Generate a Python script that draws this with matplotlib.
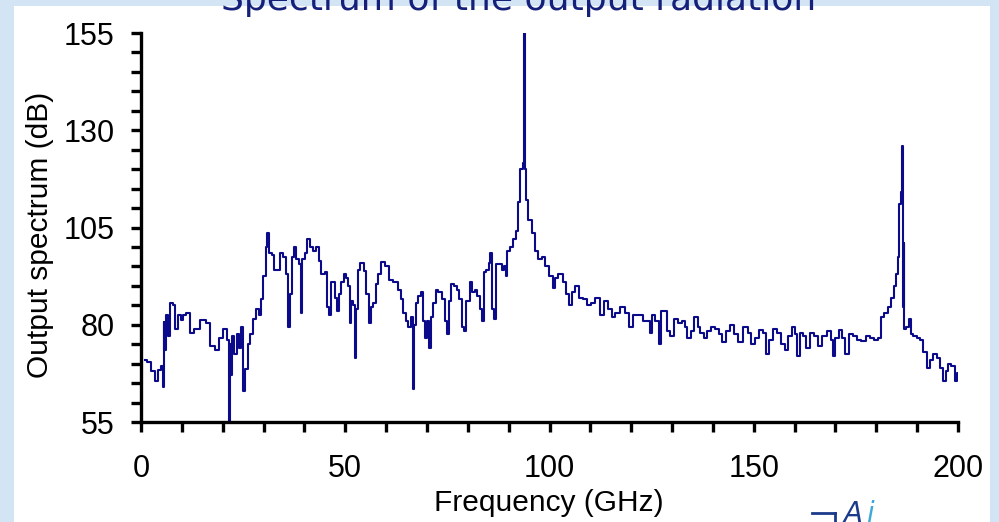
import matplotlib
matplotlib.use("Agg")
import matplotlib.pyplot as plt
from matplotlib.patches import Rectangle
from matplotlib.lines import Line2D

freq_ghz = [
    1.0, 2.0, 3.0, 3.8, 4.6, 5.2, 5.5, 5.6, 5.9, 6.4, 6.8, 7.4, 8.1, 8.4, 9.5, 9.9,
    10.7, 11.5, 12.3, 13.5, 15.6, 16.4, 17.6, 18.4, 19.7, 20.6, 21.3, 21.8, 22.0, 22.2,
    22.5, 23.1, 23.7, 24.2, 24.7, 25.2, 25.8, 26.4, 27.0, 27.8, 28.6, 29.0, 29.6, 30.3,
    30.7, 31.1, 31.7, 32.2, 32.7, 33.7, 34.5, 35.2, 35.8, 36.4, 36.7, 37.2, 37.6, 38.4,
    39.0, 39.3, 39.6, 40.5, 41.0, 41.6, 42.6, 43.3, 43.7, 44.6, 45.4, 45.9, 46.3, 46.8,
    47.4, 47.8, 48.2, 48.7, 49.4, 50.0, 50.5, 50.9, 51.2, 51.6, 52.1, 52.6, 52.8, 53.2,
    54.2, 54.8, 55.5, 56.1, 56.5, 57.3, 57.7, 58.5, 59.1, 60.2, 61.0, 62.6, 63.4, 64.0,
    64.5, 65.0, 65.8, 66.3, 66.8, 67.0, 67.5, 68.2, 68.9, 69.4, 69.7, 70.1, 70.7, 71.3,
    71.8, 72.4, 73.2, 74.0, 74.6, 75.2, 75.6, 76.2, 77.0, 77.7, 78.2, 78.9, 79.2, 80.1,
    80.8, 81.4, 82.0, 82.6, 83.2, 83.8, 84.2, 84.9, 85.3, 85.7, 86.1, 86.5, 87.1, 88.0,
    88.5, 89.0, 89.5, 89.9, 90.7, 91.6, 92.1, 92.6, 93.2, 93.6, 93.8, 94.0, 94.2, 94.4,
    95.2, 96.0, 96.9, 97.7, 98.6, 99.3, 100.5, 101.1, 101.5, 102.7, 103.9, 104.4, 105.1,
    105.7, 106.7, 107.5, 108.8, 109.6, 110.7, 111.8, 112.7, 113.8, 114.9, 115.7, 116.5,
    117.9, 119.0, 120.0, 121.0, 122.2, 123.5, 124.3, 124.8, 125.5, 126.3, 127.1, 127.5,
    128.3, 129.1, 129.9, 130.9, 132.0, 132.8, 133.3, 134.1, 135.0, 135.9, 136.6, 137.3,
    138.1, 139.0, 140.2, 141.0, 141.8, 142.9, 143.7, 144.7, 145.6, 146.7, 148.0, 149.0,
    149.8, 150.8, 151.9, 152.6, 153.5, 154.2, 155.2, 156.3, 157.2, 158.1, 158.9, 159.7,
    160.4, 160.9, 161.7, 162.5, 163.2, 164.2, 165.1, 166.2, 167.3, 168.4, 169.2, 169.6,
    170.4, 171.4, 172.0, 172.7, 173.9, 174.8, 175.6, 176.8, 178.0, 179.0, 180.1, 180.9,
    181.2, 182.5, 183.4, 183.9, 184.6, 185.0, 185.4, 185.8, 186.2, 186.4, 186.6, 186.8,
    186.9, 187.8, 188.2, 188.7, 189.5, 190.3, 191.1, 191.9, 192.7, 193.5, 194.4, 195.2,
    196.0, 196.6, 197.3, 198.0, 198.8, 199.7, 200.0,
]

spectrum_db = [
    71.0, 70.5, 68.0, 65.5, 68.4, 69.5, 64.0, 80.8, 73.5, 82.5, 77.0, 85.5, 85.0, 79.0, 82.5, 81.2,
    82.5, 83.0, 78.0, 79.0, 81.2, 80.4, 74.5, 73.5, 76.5, 79.0, 76.0, 55.0, 75.0, 67.0,
    77.0, 72.5, 77.5, 74.0, 79.5, 63.0, 68.5, 75.0, 77.5, 81.5, 84.0, 82.5, 86.5, 92.5,
    100.0, 103.5, 98.5, 98.0, 94.0, 94.0, 98.5, 97.5, 93.0, 79.5, 88.0, 97.5, 100.0, 97.0,
    95.5, 83.0, 97.0, 98.5, 102.0, 100.0, 99.0, 100.0, 96.5, 93.0, 93.5, 84.5, 82.5, 91.0,
    91.0, 87.0, 83.5, 88.0, 91.0, 93.0, 92.0, 90.0, 80.5, 86.0, 85.0, 71.5, 84.0, 94.0,
    95.8, 93.7, 88.0, 80.5, 84.5, 85.5, 90.5, 93.0, 96.2, 95.0, 91.5, 91.0, 89.0, 86.5,
    83.0, 81.0, 79.5, 82.0, 63.5, 80.0, 85.5, 87.5, 88.5, 81.0, 76.5, 81.0, 74.0, 82.0,
    85.5, 89.0, 88.5, 86.5, 81.0, 77.5, 86.0, 90.5, 90.0, 89.0, 86.5, 79.5, 78.5, 86.0,
    91.0, 88.5, 89.0, 87.5, 84.0, 81.0, 93.5, 94.0, 96.0, 98.5, 84.0, 81.5, 95.5, 95.5,
    94.0, 95.0, 92.5, 99.0, 100.0, 102.0, 104.0, 111.5, 120.0, 121.5, 155.0, 121.0, 120.0, 112.0,
    107.0, 103.5, 99.0, 97.0, 97.5, 95.0, 92.5, 89.5, 92.0, 93.0, 91.0, 88.0, 85.0,
    88.5, 90.0, 87.0, 86.5, 85.0, 85.5, 87.0, 82.5, 86.0, 84.0, 82.0, 83.0,
    84.5, 83.0, 79.5, 82.5, 82.5, 81.0, 81.0, 77.8, 82.5, 81.0, 75.0, 83.5,
    83.5, 78.5, 77.0, 81.5, 80.5, 81.0, 79.5, 76.5, 78.5, 82.0, 79.5, 78.0,
    76.5, 78.5, 79.5, 79.0, 77.5, 75.5, 78.5, 80.0, 77.5, 75.5, 79.5, 78.0,
    75.0, 76.5, 78.7, 78.0, 72.5, 76.0, 79.0, 78.0, 75.0, 73.5, 77.0, 79.3,
    77.5, 72.0, 78.0, 77.0, 74.0, 78.0, 77.0, 74.5, 77.0, 78.5, 76.0, 72.0,
    76.5, 78.7, 76.5, 72.5, 77.5, 77.0, 76.0, 75.8, 77.0, 76.5, 76.0, 76.5,
    82.0, 83.0, 84.5, 87.0, 90.0, 93.0, 97.5, 111.0, 114.0, 126.0, 84.5, 101.0,
    79.0, 79.5, 81.5, 77.5, 77.0, 76.5, 76.0, 73.0, 69.0, 71.0, 72.5, 71.5,
    69.0, 65.5, 68.0, 70.0, 69.5, 65.5, 67.5,
]

x_ticks = [0, 50, 100, 150, 200]
y_ticks = [55, 80, 105, 130, 155]

title_text = "Spectrum of the output radiation"
x_label = "Frequency (GHz)"
y_label = "Output spectrum (dB)"

W, H = 999, 522
fig = plt.figure(figsize=(W / 100, H / 100), dpi=100)
fig.patch.set_facecolor("#d3e4f5")

# white panel (drawn beneath the axes)
fig.patches.append(Rectangle((14 / W, 0), (990 - 14) / W, (H - 6) / H,
                             transform=fig.transFigure, facecolor="white",
                             edgecolor="none", zorder=-10))

ax = fig.add_axes([141 / W, 100 / H, (958 - 141) / W, (422 - 33) / H])
ax.set_zorder(5)
ax.set_facecolor("none")
ax.plot(freq_ghz, spectrum_db, color="#0a0a8a", lw=1.5, drawstyle="steps-mid")

ax.set_xlim(0, 200)
ax.set_ylim(55, 155)
for s in ["top", "right"]:
    ax.spines[s].set_visible(False)
for s in ["left", "bottom"]:
    ax.spines[s].set_linewidth(2.4)
    ax.spines[s].set_color("black")

ax.set_xticks(x_ticks)
ax.set_xticks(range(0, 201, 10), minor=True)
ax.set_yticks(y_ticks)
ax.set_yticks(range(55, 156, 5), minor=True)

fontname = "Liberation Sans"
ax.tick_params(axis="both", which="both", direction="out", length=7, width=2.4,
               color="black")
ax.tick_params(axis="x", which="major", pad=16)
ax.tick_params(axis="y", which="major", pad=12)
ax.set_xticklabels([str(v) for v in x_ticks], fontsize=22, fontname=fontname)
ax.set_yticklabels([str(v) for v in y_ticks], fontsize=22, fontname=fontname)

fig.text(549 / W, 1 - 503 / H, x_label, ha="center", va="center", fontsize=21.5,
         fontname=fontname, zorder=6)
fig.text(40 / W, 1 - 235 / H, y_label, ha="center", va="center", fontsize=21.5,
         rotation=90, fontname=fontname, zorder=6)

fig.text(519 / W, 1 - 10 / H, title_text, ha="center", va="baseline", fontsize=26,
         color="#14207a", family="DejaVu Sans", zorder=6)

# partial logo at bottom right
fig.add_artist(Line2D([812 / W, 835 / W], [1 - 513 / H, 1 - 513 / H],
                      transform=fig.transFigure, color="#1b3a8c", lw=2, zorder=6))
fig.add_artist(Line2D([835 / W, 835 / W], [1 - 513 / H, 0],
                      transform=fig.transFigure, color="#1b3a8c", lw=2, zorder=6))
fig.text(843 / W, 1 - 500 / H, "A", ha="left", va="top", fontsize=20, style="italic",
         color="#1b3a8c", family="DejaVu Sans", zorder=6)
fig.text(866 / W, 1 - 500 / H, "i", ha="left", va="top", fontsize=20, style="italic",
         color="#3fa9d6", family="DejaVu Sans", zorder=6)

fig.savefig("out.png", dpi=100, facecolor=fig.get_facecolor())
